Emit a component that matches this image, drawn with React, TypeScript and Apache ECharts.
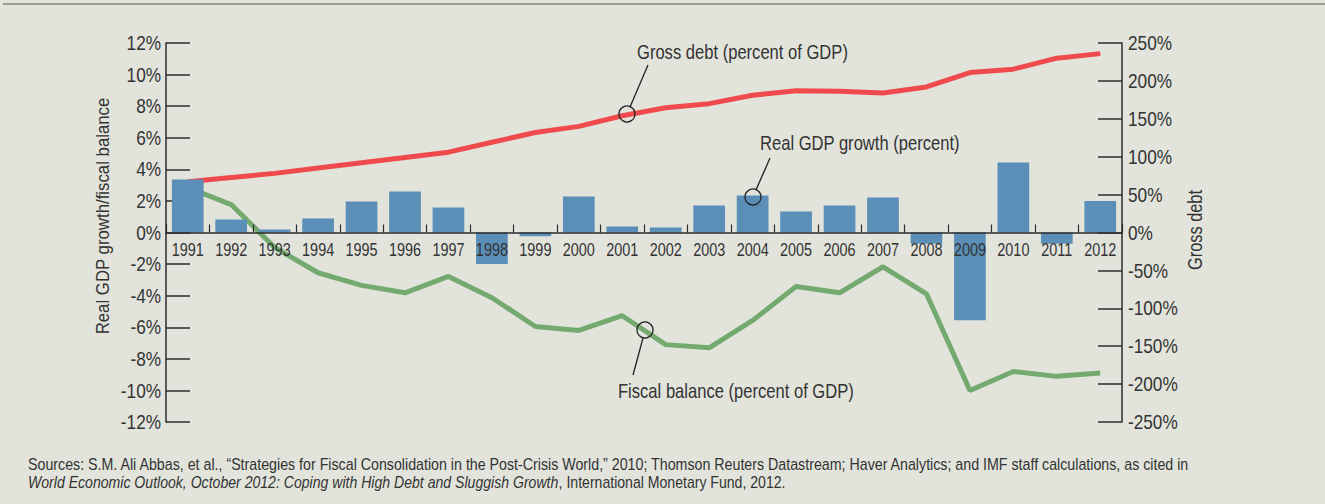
import React, { useEffect, useRef } from "react";
import * as echarts from "echarts";

const years = ["1991","1992","1993","1994","1995","1996","1997","1998","1999","2000","2001","2002","2003","2004","2005","2006","2007","2008","2009","2010","2011","2012"];
const realGdpGrowth = [3.35, 0.82, 0.19, 0.89, 1.96, 2.6, 1.58, -2.0, -0.23, 2.28, 0.38, 0.32, 1.71, 2.34, 1.33, 1.71, 2.22, -0.72, -5.55, 4.43, -0.72, 2.0];
const grossDebt = [67, 72.5, 78, 85, 92, 99, 106, 119, 132, 140, 154, 164.5, 170, 181, 187, 186.5, 184, 192, 211, 215.5, 230, 236];
const fiscalBalance = [2.85, 1.77, -0.95, -2.55, -3.35, -3.82, -2.78, -4.13, -5.95, -6.2, -5.27, -7.1, -7.3, -5.57, -3.42, -3.82, -2.17, -3.88, -10.0, -8.8, -9.11, -8.9];
const leftTicks = { min: -12, max: 12, interval: 2 };
const rightTicks = { min: -250, max: 250, interval: 50 };

const SOURCE_1 = "Sources: S.M. Ali Abbas, et al., \u201cStrategies for Fiscal Consolidation in the Post-Crisis World,\u201d 2010; Thomson Reuters Datastream; Haver Analytics; and IMF staff calculations, as cited in";
const SOURCE_2_ITALIC = "World Economic Outlook, October 2012: Coping with High Debt and Sluggish Growth";
const SOURCE_2_REST = ", International Monetary Fund, 2012.";

const FONT = "'Liberation Sans', Arial, Helvetica, sans-serif";
const TEXT = "#333333";
const INK = "#2b2b2b";

function measure(text: string, font: string): number {
  const ctx = document.createElement("canvas").getContext("2d");
  if (!ctx) return text.length * 8;
  ctx.font = font;
  return ctx.measureText(text).width;
}

function fit(text: string, size: number, target: number): number {
  return target / measure(text, `${size}px ${FONT}`);
}

function condenseTickLabels(root: HTMLElement) {
  const texts = root.querySelectorAll("text");
  texts.forEach((t) => {
    const content = (t.textContent || "").trim();
    let s = 0;
    if (/^\d{4}$/.test(content)) s = 0.76;
    else if (/^-?\d+%$/.test(content)) s = 0.82;
    if (!s) return;
    const el = t as SVGTextElement;
    const bb = el.getBBox();
    const anchor = el.getAttribute("text-anchor") || getComputedStyle(el).textAnchor || "start";
    let ax = bb.x;
    if (anchor === "middle") ax = bb.x + bb.width / 2;
    else if (anchor === "end") ax = bb.x + bb.width;
    const tr = el.getAttribute("transform") || "";
    el.setAttribute("transform", `${tr} translate(${ax} 0) scale(${s} 1) translate(${-ax} 0)`);
  });
}

export default function App() {
  const ref = useRef<HTMLDivElement>(null);
  useEffect(() => {
    if (!ref.current) return;
    const chart = echarts.init(ref.current, undefined, { renderer: "svg" });
    const axisLine = { show: true, onZero: false, lineStyle: { color: INK, width: 1.5 } };
    const yTick = { show: true, inside: true, length: 24, lineStyle: { color: INK, width: 1.5 } };
    const stroke = { fill: "none", stroke: "#222", lineWidth: 1.3 };
    const annSize = 20;
    const annText = (text: string, x: number, y: number, target: number) => ({
      type: "text", x, y, scaleX: fit(text, annSize, target), z: 10,
      style: { text, fontSize: annSize, fontFamily: FONT, fill: TEXT, verticalAlign: "middle" },
    });
    const src2Width =
      measure(SOURCE_2_ITALIC, `italic 16px ${FONT}`) + measure(SOURCE_2_REST, `16px ${FONT}`);

    const baseOption = {
      animation: false,
      backgroundColor: "#e2e4dc",
      textStyle: { fontFamily: FONT },
      grid: { left: 166, right: 203, top: 43, bottom: 82, containLabel: false },
      xAxis: {
        type: "category",
        data: years,
        boundaryGap: true,
        z: 5,
        offset: 0,
        axisLine: { show: true, onZero: false, lineStyle: { color: INK, width: 1.5 } },
        axisTick: { show: true, inside: true, length: 8, lineStyle: { color: INK, width: 1.2 } },
        axisLabel: { interval: 0, margin: 8, fontSize: 19, color: TEXT, fontFamily: FONT },
        splitLine: { show: false },
      },
      yAxis: [
        {
          type: "value",
          position: "left",
          ...leftTicks,
          axisLine,
          axisTick: yTick,
          axisLabel: { formatter: "{value}%", fontSize: 21, margin: 5, color: TEXT, fontFamily: FONT },
          splitLine: { show: false },
        },
        {
          type: "value",
          position: "right",
          ...rightTicks,
          axisLine,
          axisTick: yTick,
          axisLabel: { formatter: "{value}%", fontSize: 21, margin: 6, color: TEXT, fontFamily: FONT },
          splitLine: { show: false },
        },
      ],
      series: [
        {
          name: "Real GDP growth (percent)",
          type: "bar",
          yAxisIndex: 0,
          data: realGdpGrowth,
          barWidth: "73%",
          itemStyle: { color: "#5b8fb8" },
          z: 3,
        },
        {
          name: "Gross debt (percent of GDP)",
          type: "line",
          yAxisIndex: 1,
          data: grossDebt,
          symbol: "none",
          lineStyle: { color: "#ef4b4d", width: 5 },
          z: 2,
        },
        {
          name: "Fiscal balance (percent of GDP)",
          type: "line",
          yAxisIndex: 0,
          data: fiscalBalance,
          symbol: "none",
          lineStyle: { color: "#74aa70", width: 5 },
          z: 2,
        },
      ],
      graphic: [
        { type: "line", shape: { x1: 3, y1: 4, x2: 1325, y2: 4 }, style: { stroke: "#9aa08f", lineWidth: 2 } },
        annText("Gross debt (percent of GDP)", 637, 52, 211),
        { type: "line", shape: { x1: 648, y1: 65, x2: 630, y2: 107 }, style: { stroke: "#222", lineWidth: 1.3 }, z: 10 },
        { type: "circle", shape: { cx: 627, cy: 114, r: 8 }, style: stroke, z: 10 },
        annText("Real GDP growth (percent)", 760, 143, 200),
        { type: "line", shape: { x1: 770, y1: 158, x2: 756, y2: 190 }, style: { stroke: "#222", lineWidth: 1.3 }, z: 10 },
        { type: "circle", shape: { cx: 753, cy: 197, r: 8 }, style: stroke, z: 10 },
        annText("Fiscal balance (percent of GDP)", 618, 391, 236),
        { type: "line", shape: { x1: 633, y1: 375, x2: 643, y2: 338 }, style: { stroke: "#222", lineWidth: 1.3 }, z: 10 },
        { type: "circle", shape: { cx: 645, cy: 330, r: 8 }, style: stroke, z: 10 },
        {
          type: "text", x: 103, y: 216, rotation: Math.PI / 2,
          scaleX: fit("Real GDP growth/fiscal balance", 19, 237),
          style: { text: "Real GDP growth/fiscal balance", fontSize: 19, fontFamily: FONT, fill: TEXT, align: "center", verticalAlign: "middle" },
        },
        {
          type: "text", x: 1195, y: 230, rotation: Math.PI / 2,
          scaleX: fit("Gross debt", 20, 80),
          style: { text: "Gross debt", fontSize: 20, fontFamily: FONT, fill: TEXT, align: "center", verticalAlign: "middle" },
        },
        {
          type: "text", x: 28, y: 464, scaleX: fit(SOURCE_1, 16, 1165),
          style: { text: SOURCE_1, fontSize: 16, fontFamily: FONT, fill: TEXT, verticalAlign: "middle" },
        },
        {
          type: "text", x: 28, y: 482, scaleX: 758 / src2Width,
          style: {
            text: `{i|${SOURCE_2_ITALIC}}{n|${SOURCE_2_REST}}`,
            fontSize: 16, fontFamily: FONT, fill: TEXT, verticalAlign: "middle",
            rich: {
              i: { fontStyle: "italic", fontSize: 16, fontFamily: FONT, fill: TEXT },
              n: { fontSize: 16, fontFamily: FONT, fill: TEXT },
            },
          },
        },
      ],
    };

    chart.setOption(baseOption as any);
    // place the category axis on the zero line of the left value axis
    const zeroY = chart.convertToPixel({ yAxisIndex: 0 }, 0) as number;
    const bottomY = chart.convertToPixel({ yAxisIndex: 0 }, leftTicks.min) as number;
    chart.setOption({ xAxis: { offset: -(bottomY - zeroY) } } as any);
    condenseTickLabels(ref.current);
    return () => chart.dispose();
  }, []);
  return <div ref={ref} style={{ position: "absolute", left: 0, top: 0, width: 1325, height: 504 }} />;
}
